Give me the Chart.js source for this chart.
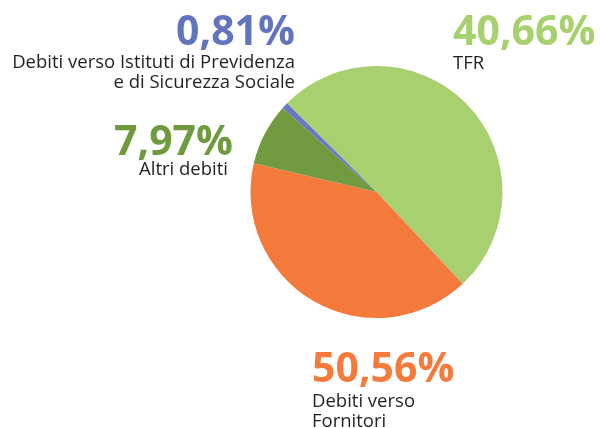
<!DOCTYPE html>
<html>
<head>
<meta charset="utf-8">
<script src="https://cdn.jsdelivr.net/npm/chart.js@4/dist/chart.umd.min.js"></script>
<style>
html,body{margin:0;padding:0;background:#fff;}
#wrap{width:600px;height:428px;position:relative;}
</style>
</head>
<body>
<div id="wrap"><canvas id="c" width="600" height="428"></canvas></div>
<script>
// Slice categories, in drawing order (clockwise)
const categories = ['TFR', 'Debiti verso Fornitori', 'Altri debiti', 'Debiti verso Istituti di Previdenza e di Sicurezza Sociale'];
// Slice sizes as drawn in the picture (percent)
const values = [50.56, 40.66, 7.97, 0.81];
// Percent texts as printed beside each slice
const shownPercent = ['40,66%', '50,56%', '7,97%', '0,81%'];
// Category label text lines as printed
const labelLines = [['TFR'], ['Debiti verso', 'Fornitori'], ['Altri debiti'], ['Debiti verso Istituti di Previdenza', 'e di Sicurezza Sociale']];
const sliceColors = ['#a8d06f', '#f47a3c', '#729b40', '#6878c4'];
const textColors = ['#a6d16c', '#f47b3c', '#6f9a3e', '#6374bf'];

// label layout
const labelLayout = [
  {x: 453, py: 45, ly: 69, align: 'left', lx: 453},
  {x: 312, py: 382, ly: 407, align: 'left', lx: 312},
  {x: 233, py: 155, ly: 175, align: 'right', lx: 228},
  {x: 295, py: 45, ly: 68, align: 'right', lx: 295}
];

const textPlugin = {
  id: 'sliceTexts',
  afterDraw(chart) {
    const ctx = chart.ctx;
    ctx.save();
    categories.forEach((cat, i) => {
      const L = labelLayout[i];
      ctx.textAlign = L.align;
      ctx.textBaseline = 'alphabetic';
      ctx.fillStyle = textColors[i];
      ctx.font = 'bold 41px "Open Sans"';
      ctx.fillText(shownPercent[i], L.x, L.py);
      ctx.fillStyle = '#231f20';
      ctx.font = '18.5px "Open Sans"';
      labelLines[i].forEach((line, j) => {
        ctx.fillText(line, L.lx, L.ly + j * 20);
      });
    });
    ctx.restore();
  }
};

new Chart(document.getElementById('c'), {
  type: 'pie',
  data: {
    labels: categories,
    datasets: [{
      data: values,
      backgroundColor: sliceColors,
      borderWidth: 0
    }]
  },
  options: {
    responsive: false,
    animation: false,
    rotation: -45.2,
    layout: {padding: {left: 250.5, right: 97.5, top: 66, bottom: 110}},
    plugins: {legend: {display: false}, tooltip: {enabled: false}}
  },
  plugins: [textPlugin]
});
</script>
</body>
</html>
